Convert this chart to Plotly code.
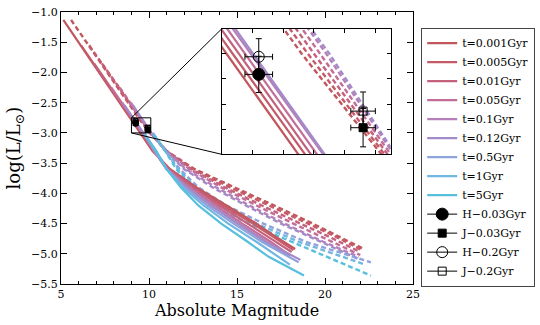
import plotly.graph_objects as go

# isochrones: log(L/Lsun) with H (solid) and J (dashed) absolute magnitudes
ages = ["0.001", "0.005", "0.01", "0.05", "0.1", "0.12", "0.5", "1", "5"]

logl_0001 = [-1.13, -1.6, -2.2, -2.8, -3.0, -3.3, -3.6, -3.9, -4.2, -4.5, -4.7, -4.92]
h_0001 = [5.13, 6.22, 7.63, 9.03, 9.50, 10.20, 11.20, 12.70, 14.40, 16.10, 17.10, 18.30]
j_0001 = [5.57, 6.68, 8.10, 9.52, 10.04, 11.00, 12.60, 14.90, 17.10, 19.30, 20.70, 22.20]

logl_0005 = [-1.55, -2.2, -2.8, -3.0, -3.3, -3.6, -3.9, -4.2, -4.5, -4.7, -4.94]
h_0005 = [6.14, 7.66, 9.07, 9.54, 10.25, 11.15, 12.60, 14.20, 15.90, 16.95, 18.20]
j_0005 = [6.60, 8.14, 9.56, 10.06, 11.00, 12.50, 14.60, 16.80, 19.00, 20.50, 22.10]

logl_001 = [-1.85, -2.2, -2.8, -3.0, -3.3, -3.6, -3.9, -4.2, -4.5, -4.7, -4.97]
h_001 = [6.88, 7.70, 9.11, 9.58, 10.30, 11.10, 12.50, 14.00, 15.60, 16.70, 18.10]
j_001 = [7.32, 8.18, 9.60, 10.08, 11.00, 12.40, 14.30, 16.40, 18.60, 20.10, 22.00]

logl_005 = [-2.25, -2.8, -3.0, -3.3, -3.6, -3.9, -4.2, -4.5, -4.8, -5.02]
h_005 = [7.86, 9.15, 9.62, 10.30, 11.05, 12.30, 13.80, 15.30, 16.90, 18.00]
j_005 = [8.34, 9.64, 10.10, 11.00, 12.30, 14.10, 16.10, 18.20, 20.40, 22.00]

logl_01 = [-2.5, -2.8, -3.0, -3.3, -3.6, -3.9, -4.2, -4.5, -4.8, -5.05]
h_01 = [8.48, 9.19, 9.66, 10.30, 11.00, 12.20, 13.60, 15.10, 16.70, 18.00]
j_01 = [8.97, 9.68, 10.12, 10.95, 12.10, 13.80, 15.70, 17.70, 19.90, 21.90]

logl_012 = [-2.55, -2.8, -3.0, -3.3, -3.6, -3.9, -4.2, -4.5, -4.8, -5.1]
h_012 = [8.62, 9.20, 9.67, 10.30, 11.00, 12.10, 13.50, 15.00, 16.60, 18.60]
j_012 = [9.10, 9.70, 10.13, 10.95, 12.00, 13.60, 15.50, 17.50, 19.70, 22.00]

logl_05 = [-3.0, -3.3, -3.6, -3.9, -4.2, -4.5, -4.8, -5.14]
h_05 = [9.72, 10.38, 11.00, 12.00, 13.30, 14.80, 16.40, 18.50]
j_05 = [10.22, 10.92, 11.75, 12.80, 14.40, 16.50, 18.90, 22.60]

logl_1 = [-3.02, -3.3, -3.6, -3.9, -4.2, -4.5, -4.8, -5.18]
h_1 = [9.76, 10.40, 11.00, 11.90, 13.10, 14.50, 16.10, 18.00]
j_1 = [10.26, 10.92, 11.65, 12.65, 14.00, 16.10, 18.50, 22.30]

logl_5 = [-3.05, -3.3, -3.6, -3.9, -4.2, -4.5, -4.8, -5.05, -5.36]
h_5 = [9.80, 10.42, 11.00, 11.80, 12.80, 14.10, 15.60, 16.80, 18.80]
j_5 = [10.30, 10.92, 11.55, 12.45, 13.50, 15.70, 18.10, 20.10, 22.60]

logl_sets = [logl_0001, logl_0005, logl_001, logl_005, logl_01, logl_012, logl_05, logl_1, logl_5]
h_sets = [h_0001, h_0005, h_001, h_005, h_01, h_012, h_05, h_1, h_5]
j_sets = [j_0001, j_0005, j_001, j_005, j_01, j_012, j_05, j_1, j_5]

# observed points: (mag, mag err, logL, logL err)
obs_names = ["H\u22120.03Gyr", "J\u22120.03Gyr", "H\u22120.2Gyr", "J\u22120.2Gyr"]
obs_mag = [9.24, 9.92, 9.24, 9.92]
obs_mag_err = [0.09, 0.08, 0.09, 0.08]
obs_logl = [-2.841, -2.947, -2.806, -2.914]
obs_logl_err = [0.036, 0.038, 0.036, 0.038]

colors = ["#c1575c", "#c55a68", "#c4617c", "#c26e98", "#b67fb9",
          "#a38bc9", "#8fa3dd", "#72b6e2", "#58bfdc"]
obs_symbols = ["circle", "square", "circle-open", "square-open"]
main_sizes = [6, 5, 6, 5]
inset_sizes = [12, 8, 11, 8]

FONT = "DejaVu Serif"

# axis ranges
x_main = [5, 25]
y_main = [-5.5, -1.0]
x_zoom = [9.0, 10.1]
y_zoom = [-3.0, -2.75]
dom_x_main = [0.113, 0.765]
dom_y_main = [0.126, 0.963]
dom_x_ins = [0.411, 0.7235]
dom_y_ins = [0.525, 0.912]

fig = go.Figure()

for axes in [("x", "y"), ("x2", "y2")]:
    for i, age in enumerate(ages):
        fig.add_trace(go.Scatter(
            x=j_sets[i], y=logl_sets[i], mode="lines",
            line=dict(color=colors[i], width=2.4, dash="5px,3px"),
            xaxis=axes[0], yaxis=axes[1], showlegend=False, hoverinfo="skip"))
    for i, age in enumerate(ages):
        fig.add_trace(go.Scatter(
            x=h_sets[i], y=logl_sets[i], mode="lines",
            line=dict(color=colors[i], width=2.2),
            name=f"t={age}Gyr", legendrank=i,
            xaxis=axes[0], yaxis=axes[1], showlegend=(axes[0] == "x"),
            hoverinfo="skip"))

for k in range(4):
    for axes, sizes, show in [(("x", "y"), main_sizes, False), (("x2", "y2"), inset_sizes, True)]:
        fig.add_trace(go.Scatter(
            x=[obs_mag[k]], y=[obs_logl[k]], mode="lines+markers",
            marker=dict(symbol=obs_symbols[k], size=sizes[k], color="black",
                        line=dict(color="black", width=1)),
            line=dict(color="black", width=1),
            error_x=dict(type="constant", value=obs_mag_err[k], color="black", thickness=1, width=3),
            error_y=dict(type="constant", value=obs_logl_err[k], color="black", thickness=1, width=3),
            name=obs_names[k], legendrank=20 + k, showlegend=show,
            xaxis=axes[0], yaxis=axes[1], hoverinfo="skip"))


def paper_to_main(fx, fy):
    x = x_main[0] + (fx - dom_x_main[0]) / (dom_x_main[1] - dom_x_main[0]) * (x_main[1] - x_main[0])
    y = y_main[0] + (fy - dom_y_main[0]) / (dom_y_main[1] - dom_y_main[0]) * (y_main[1] - y_main[0])
    return x, y


# zoom box and connectors
fig.add_shape(type="rect", xref="x", yref="y", x0=x_zoom[0], x1=x_zoom[1],
              y0=y_zoom[0], y1=y_zoom[1], line=dict(color="black", width=1))
tl = paper_to_main(dom_x_ins[0], dom_y_ins[1])
bl = paper_to_main(dom_x_ins[0], dom_y_ins[0])
fig.add_shape(type="line", xref="x", yref="y", x0=x_zoom[0], y0=y_zoom[1], x1=tl[0], y1=tl[1],
              line=dict(color="black", width=1))
fig.add_shape(type="line", xref="x", yref="y", x0=x_zoom[0], y0=y_zoom[0], x1=bl[0], y1=bl[1],
              line=dict(color="black", width=1))

axis_common = dict(showgrid=False, zeroline=False, showline=True, linecolor="black",
                   linewidth=1, mirror="ticks", ticks="inside", tickcolor="black",
                   automargin=False)

fig.update_layout(
    width=540, height=325,
    margin=dict(l=0, r=0, t=0, b=0),
    paper_bgcolor="white", plot_bgcolor="white",
    font=dict(family=FONT, size=11, color="black"),
    xaxis=dict(domain=dom_x_main, range=x_main, dtick=5, ticklen=6,
               minor=dict(dtick=1, ticks="inside", ticklen=3, tickcolor="black"),
               title=dict(text="Absolute Magnitude", font=dict(size=16), standoff=3),
               anchor="y", **axis_common),
    yaxis=dict(domain=dom_y_main, range=y_main, dtick=0.5, tickformat=".1f", ticklen=6,
               title=dict(text="log(L/L<sub>\u2299</sub>)", font=dict(size=18), standoff=5),
               anchor="x", **axis_common),
    xaxis2=dict(domain=dom_x_ins, range=x_zoom, dtick=0.2, tick0=9.0, ticklen=4,
                showticklabels=False, anchor="y2", **axis_common),
    yaxis2=dict(domain=dom_y_ins, range=y_zoom, dtick=0.05, tick0=-3.0, ticklen=4,
                showticklabels=False, anchor="x2", **axis_common),
    legend=dict(x=0.78, y=0.915, xanchor="left", yanchor="top",
                bordercolor="#444", borderwidth=1, bgcolor="white",
                font=dict(size=11), tracegroupgap=0, itemwidth=30),
)

# drop the browser's default body margin so the figure sits at the window origin
fig.write_html("out.html", config={"displayModeBar": False},
               post_script="document.body.style.margin = '0px';")
